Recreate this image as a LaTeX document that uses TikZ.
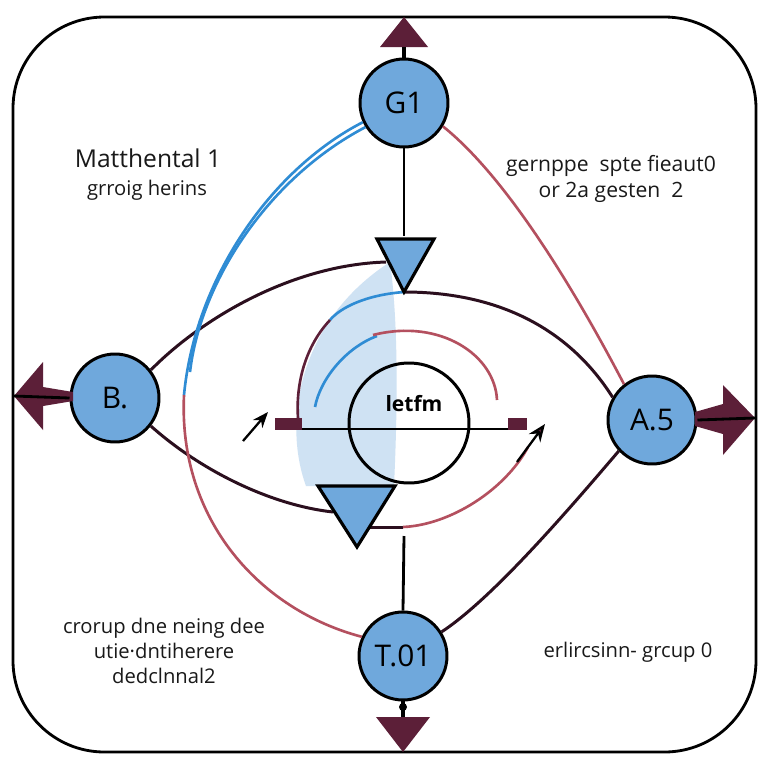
\documentclass[tikz,border=0pt]{standalone}
\usepackage{fontspec}
\setmainfont{Open Sans}
\usetikzlibrary{arrows.meta}
\definecolor{nethubfill}{HTML}{6FA8DC}
\definecolor{netmaroon}{HTML}{5C1F38}
\definecolor{netdark}{HTML}{2B0F1E}
\definecolor{netred}{HTML}{B4505F}
\definecolor{netblue}{HTML}{2F8CD4}
\definecolor{netshade}{HTML}{CFE2F3}
\tikzset{
  nethub/.style={circle,draw=black,line width=1.7pt,fill=nethubfill,
                 minimum size=1.76cm,inner sep=0pt,font=\fontsize{17}{19}\selectfont},
  nettri/.style={draw=black,line width=1.8pt,fill=nethubfill,line join=miter},
  netport/.style={fill=netmaroon},
  netstem/.style={line width=1.6pt,black},
  netdarklink/.style={line width=1.7pt,netdark},
  netredlink/.style={line width=1.5pt,netred},
  netbluelink/.style={line width=1.5pt,netblue},
  nettext/.style={align=center,font=\fontsize{11.5}{14}\selectfont,text=black!90},
  nettitle/.style={font=\fontsize{14}{16}\selectfont,text=black!90}
}
\begin{document}
\begin{tikzpicture}[x=0.02cm,y=-0.02cm]
  \useasboundingbox (0,0) rectangle (768,768);
  \fill[white] (0,0) rectangle (768,768);

  % shaded lens
  \fill[netshade] (390,262) .. controls (300,320) and (282,420) .. (306,486)
    -- (394,486) .. controls (398,400) and (398,320) .. (390,262) -- cycle;

  % frame
  \draw[line width=1.6pt,rounded corners=52] (13,17) rectangle (756,752);

  % hubs
  \node[nethub] (g1) at (404,103) {G1};
  \node[nethub] (bnode) at (115,398) {B.};
  \node[nethub] (a5) at (652,420) {A.5};
  \node[nethub] (t01) at (403,656) {T.01};
  \node[circle,draw=black,line width=1.7pt,minimum size=2.4cm,inner sep=0pt]
    (core) at (409,423) {};
  \node[font=\fontsize{12}{14}\selectfont\bfseries] (coretxt) at (414,404) {letfm};

  % points used by the links
  \coordinate (toptri-l) at (377,239);
  \coordinate (toptri-r) at (434,239);
  \coordinate (toptri-a) at (404,292);
  \coordinate (bottri-l) at (318,486);
  \coordinate (bottri-r) at (395,486);
  \coordinate (bottri-a) at (357,547);
  \coordinate (topedge) at (404,17);
  \coordinate (botedge) at (403,752);
  \coordinate (leftedge) at (14,396);
  \coordinate (rightedge) at (755,418);
  \coordinate (bluebend) at (184,395);
  \coordinate (lensbend) at (330,320);
  \coordinate (portl) at (298,418);
  \coordinate (portr) at (508,429);
  \coordinate (axisl) at (292,429);
  \coordinate (arcstart) at (373,335);
  \coordinate (arcend) at (497,400);
  \coordinate (innerblue) at (377,336);
  \coordinate (innerblueend) at (315,407);
  \coordinate (upl) at (386,262);
  \coordinate (lowl) at (333,512);
  \coordinate (lowr) at (370,527);
  \coordinate (lowrend) at (528,447);
  \coordinate (arrl-s) at (243,441);
  \coordinate (arrl-e) at (268,412);
  \coordinate (arrr-s) at (517,462);
  \coordinate (arrr-e) at (545,424);

  % links
  \draw[netdarklink] (bnode.38) .. controls (200,320) and (290,265) .. (upl);
  \draw[netdarklink] (toptri-a) .. controls (500,292) and (570,330) .. (a5.150);
  \draw[netdarklink] (bnode.322) .. controls (200,470) and (270,505) .. (lowl);
  \draw[netdarklink] (lowr) -- (403,527);
  \draw[netredlink] (403,527) .. controls (450,525) and (505,490) .. (lowrend);
  \draw[netdarklink] (a5.223) .. controls (560,520) and (490,600) .. (t01.32);
  \draw[netredlink] (g1.329) .. controls (510,180) and (580,300) .. (a5.128);
  \draw[netbluelink] (g1.205) .. controls (270,170) and (195,280) .. (bluebend);
  \draw[netbluelink] (g1.212) .. controls (265,180) and (200,285) .. (190,372);
  \draw[netredlink] (bluebend) .. controls (178,520) and (260,610) .. (t01.155);
  \draw[netbluelink] (toptri-a) .. controls (365,295) and (340,308) .. (lensbend);
  \draw[netredlink,netmaroon] (lensbend) .. controls (302,350) and (296,390) .. (portl);
  \draw[netbluelink] (innerblue) .. controls (345,348) and (320,380) .. (innerblueend);
  \draw[netredlink] (arcstart) .. controls (440,318) and (495,355) .. (arcend);
  \draw[netstem] (axisl) -- (portr);
  \draw[black,line width=1.3pt,-{Stealth[length=9pt,width=7pt]}] (arrl-s) -- (arrl-e);
  \draw[black,line width=1.3pt,-{Stealth[length=10pt,width=8pt,fill=netmaroon]}] (arrr-s) -- (arrr-e);
  \fill[netmaroon] (275,418) rectangle (302,430);
  \fill[netmaroon] (508,418) rectangle (527,430);

  % vertical stems
  \draw[netstem] (g1.south) -- (404,236);
  \draw[netstem] (404,536) -- (t01.north);

  % triangles
  \draw[nettri] (toptri-l) -- (toptri-r) -- (toptri-a) -- cycle;
  \draw[nettri] (bottri-l) -- (bottri-r) -- (bottri-a) -- cycle;

  % outer arrows
  \fill[netport] (380,47) -- (428,47) -- (topedge) -- cycle;
  \draw[black,line width=2.4pt] (g1.north) -- (404,47);
  \fill[netport] (376,717) -- (430,717) -- (botedge) -- cycle;
  \draw[black,line width=2.2pt] (t01.south) -- (403,717);
  \fill[black] (403,707) circle (4);
  \fill[netport] (43,362) -- (43,430) -- (leftedge) -- cycle;
  \fill[netport] (43,387) -- (73,392) -- (73,401) -- (43,406) -- cycle;
  \draw[black,line width=1.6pt] (bnode.west) -- (leftedge);
  \fill[netport] (723,385) -- (723,455) -- (rightedge) -- cycle;
  \fill[netport] (695,412) -- (723,404) -- (723,434) -- (695,426) -- cycle;
  \draw[black,line width=1.6pt] (a5.east) -- (rightedge);

  % captions
  \node[nettitle] (captl) at (148,158) {Matthental 1};
  \node[nettext] (captl2) at (147,190) {grroig herins};
  \node[nettext,font=\fontsize{12}{14.5}\selectfont] (captr) at (611,179)
    {gernppe\ \ spte fieaut0\\or 2a gesten\ \ 2};
  \node[nettext] (captbl) at (164,651) {crorup dne neing dee\\utie·dntiherere\\dedclnnal2};
  \node[nettext] (captbr) at (628,652) {erlircsinn- grcup 0};
\end{tikzpicture}
\end{document}
